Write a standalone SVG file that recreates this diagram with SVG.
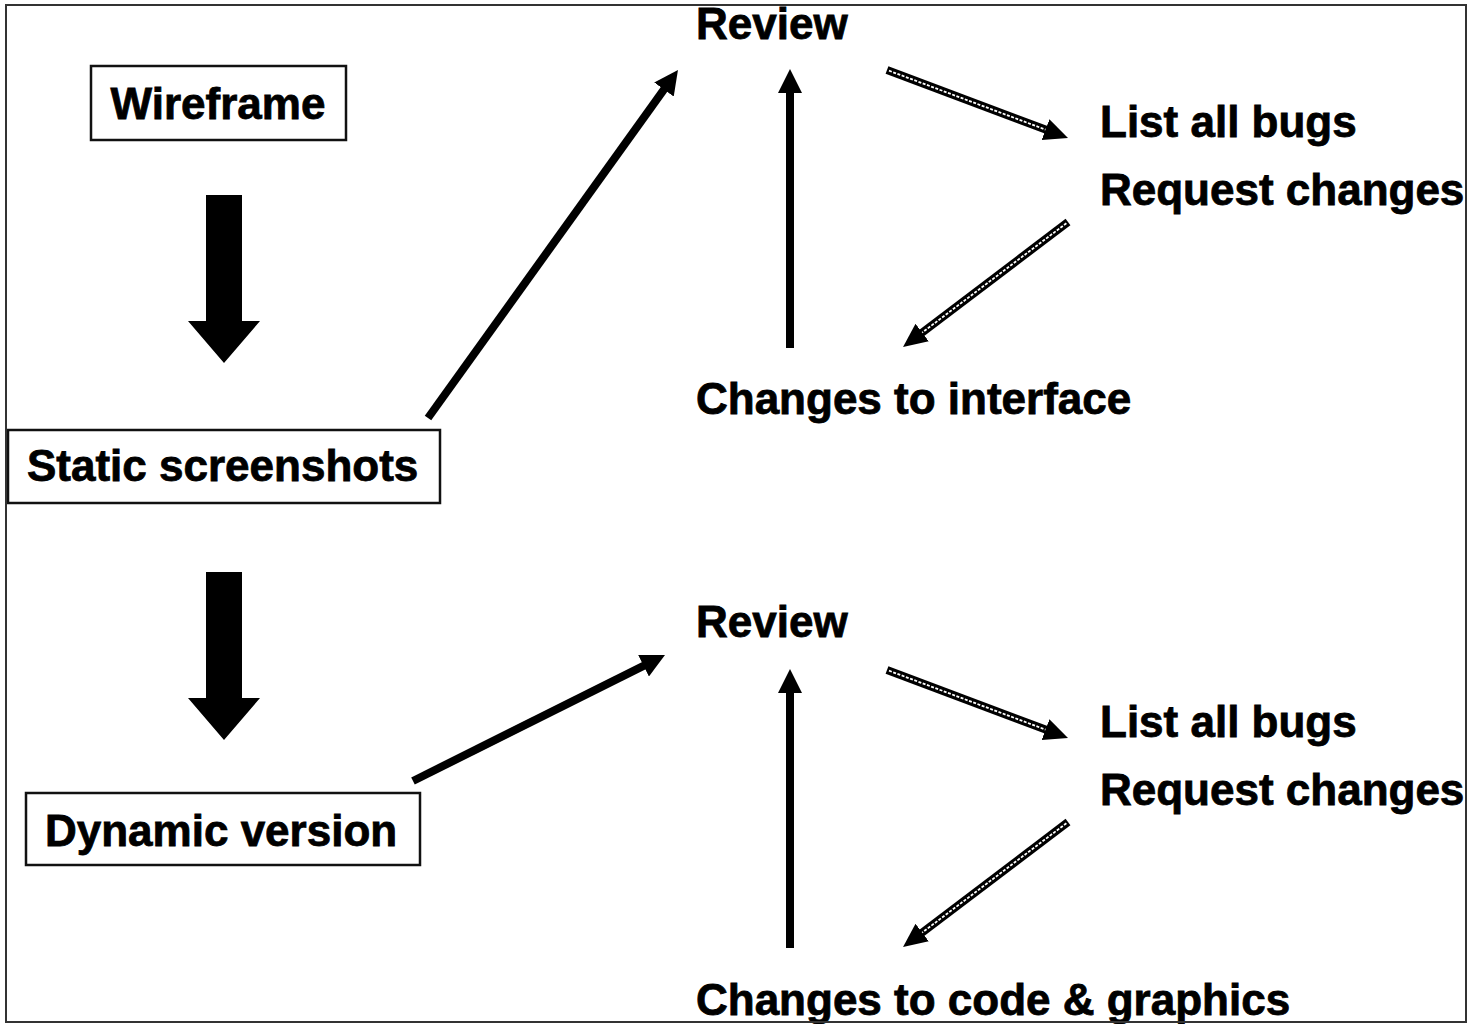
<svg xmlns="http://www.w3.org/2000/svg" width="1483" height="1024" viewBox="0 0 1483 1024">
  <style>
    .lbl { font-family: "Liberation Sans", Arial, Helvetica, sans-serif; font-weight: bold; font-size: 44px; fill: #000; stroke: #000; stroke-width: 0.8; }
    .box { fill: #fff; stroke: #111; stroke-width: 2.5; }
    .frame { fill: #fff; stroke: #333; stroke-width: 2; }
    .solid { stroke: #000; stroke-width: 8; fill: none; marker-end: url(#head); }
    .dbl { stroke: #000; stroke-width: 8; fill: none; marker-end: url(#head2); }
    .dblin { stroke: #fff; stroke-width: 1.8; fill: none; stroke-dasharray: 3 1.5; }
    .block { fill: #000; }
  </style>
  <defs>
    <marker id="head" markerUnits="userSpaceOnUse" viewBox="0 0 24 24" markerWidth="24" markerHeight="24" refX="10" refY="12" orient="auto">
      <path d="M0,0 L24,12 L0,24 Z" fill="#000"/>
    </marker>
    <marker id="head2" markerUnits="userSpaceOnUse" viewBox="0 0 24 24" markerWidth="24" markerHeight="24" refX="10" refY="12" orient="auto">
      <path d="M0,1 L24,12 L0,23 Z" fill="#000"/>
    </marker>
  </defs>

  <rect id="frame" class="frame" x="6" y="5" width="1460" height="1017"/>

  <g id="connectors">
    <!-- block arrows -->
    <path id="block1" class="block" d="M206,195 H242 V321 H260 L224,363 L188,321 H206 Z"/>
    <path id="block2" class="block" d="M206,572 H242 V698 H260 L224,740 L188,698 H206 Z"/>
    <!-- solid arrows -->
    <line class="solid" x1="428" y1="418" x2="669.8" y2="81.4"/>
    <line class="solid" x1="790" y1="348" x2="790" y2="83"/>
    <line class="solid" x1="413" y1="781" x2="652.5" y2="661.3"/>
    <line class="solid" x1="790" y1="948" x2="790" y2="683"/>
    <!-- double-line arrows -->
    <line class="dbl" x1="887" y1="70" x2="1054.9" y2="133.1"/>
    <line class="dblin" x1="889" y1="70.7" x2="1045.5" y2="129.6"/>
    <line class="dbl" x1="1068" y1="222" x2="914.2" y2="338.6"/>
    <line class="dblin" x1="1066.4" y1="223.2" x2="922.2" y2="332.6"/>
    <line class="dbl" x1="887" y1="670" x2="1054.9" y2="733.1"/>
    <line class="dblin" x1="889" y1="670.7" x2="1045.5" y2="729.6"/>
    <line class="dbl" x1="1068" y1="822" x2="914.2" y2="938.6"/>
    <line class="dblin" x1="1066.4" y1="823.2" x2="922.2" y2="932.6"/>
  </g>

  <g id="wireframe">
    <rect class="box" x="91" y="66" width="255" height="74"/>
    <text class="lbl" x="218" y="119" text-anchor="middle">Wireframe</text>
  </g>
  <g id="static-screenshots">
    <rect class="box" x="8" y="430" width="432" height="73"/>
    <text class="lbl" x="27" y="481">Static screenshots</text>
  </g>
  <g id="dynamic-version">
    <rect class="box" x="26" y="793" width="394" height="72"/>
    <text class="lbl" x="45" y="846">Dynamic version</text>
  </g>

  <g id="review-1"><text class="lbl" x="696" y="39">Review</text></g>
  <g id="list-bugs-1"><text class="lbl" x="1100" y="137">List all bugs</text></g>
  <g id="request-changes-1"><text class="lbl" x="1100" y="205">Request changes</text></g>
  <g id="changes-interface"><text class="lbl" x="696" y="414">Changes to interface</text></g>

  <g id="review-2"><text class="lbl" x="696" y="637">Review</text></g>
  <g id="list-bugs-2"><text class="lbl" x="1100" y="737">List all bugs</text></g>
  <g id="request-changes-2"><text class="lbl" x="1100" y="805">Request changes</text></g>
  <g id="changes-code"><text class="lbl" x="696" y="1015">Changes to code &amp; graphics</text></g>

  <rect x="6" y="5" width="1460" height="1017" fill="none" stroke="#333" stroke-width="2"/>
</svg>
